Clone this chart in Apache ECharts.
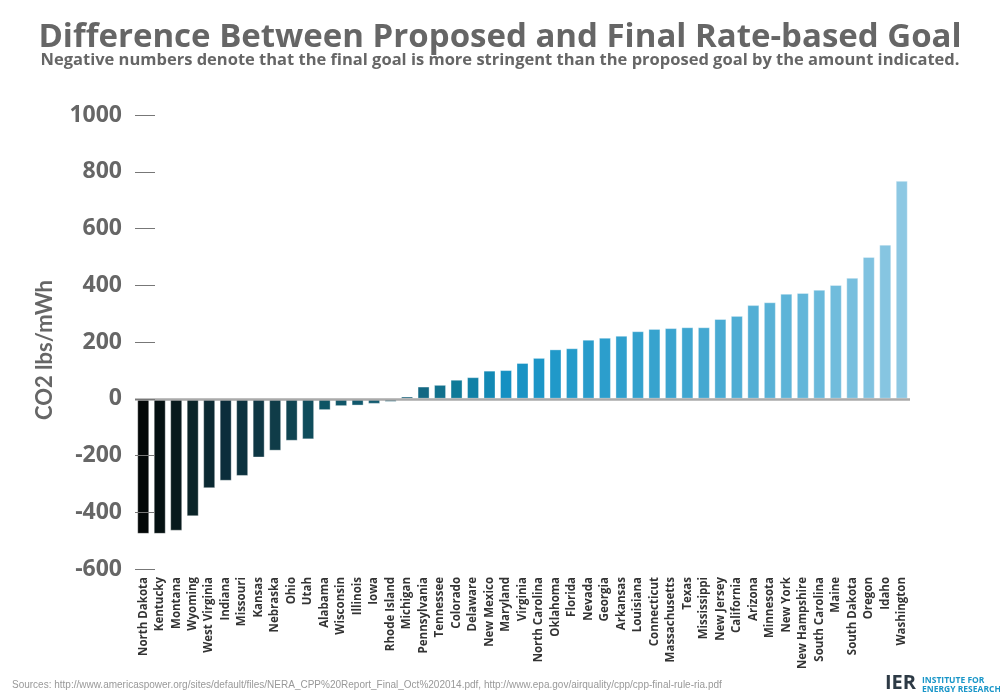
<!DOCTYPE html>
<html>
<head>
<meta charset="utf-8">
<script src="https://cdn.jsdelivr.net/npm/echarts@6/dist/echarts.min.js"></script>
<style>html,body{margin:0;padding:0;background:#fff}#c{width:1000px;height:700px}</style>
</head>
<body>
<div id="c"></div>
<script>
const states = ["North Dakota","Kentucky","Montana","Wyoming","West Virginia","Indiana","Missouri","Kansas","Nebraska","Ohio","Utah","Alabama","Wisconsin","Illinois","Iowa","Rhode Island","Michigan","Pennsylvania","Tennessee","Colorado","Delaware","New Mexico","Maryland","Virginia","North Carolina","Oklahoma","Florida","Nevada","Georgia","Arkansas","Louisiana","Connecticut","Massachusetts","Texas","Mississippi","New Jersey","California","Arizona","Minnesota","New York","New Hampshire","South Carolina","Maine","South Dakota","Oregon","Idaho","Washington"];
const differences = [-476,-476,-465,-414,-315,-289,-272,-207,-183,-148,-143,-40,-26,-24,-18,-11,8,43,49,67,76,99,101,126,144,174,178,208,215,222,238,246,249,252,252,281,292,330,340,370,373,384,401,426,500,543,768];
const yTicks = {min:-600, max:1000, interval:200};
const titleText = "Difference Between Proposed and Final Rate-based Goal";
const subtitleText = "Negative numbers denote that the final goal is more stringent than the proposed goal by the amount indicated.";
const yAxisName = "CO2 lbs/mWh";
const sourceText = "Sources: http://www.americaspower.org/sites/default/files/NERA_CPP%20Report_Final_Oct%202014.pdf, http://www.epa.gov/airquality/cpp/cpp-final-rule-ria.pdf";

// colour ramp stops (index -> colour)
const stops = [[0,"#030707"],[3,"#0a2428"],[5,"#0b2d3b"],[8,"#0f3c48"],[11,"#0f5464"],[16,"#155f78"],[19,"#0f7a98"],[22,"#1590c2"],[25,"#2099c9"],[33,"#3fa6d0"],[40,"#62b6d9"],[46,"#8dc8e3"]];
function hex(c){return [1,3,5].map(i=>parseInt(c.substr(i,2),16));}
function colorAt(i){
  for(let k=0;k<stops.length-1;k++){
    const [a,ca]=stops[k],[b,cb]=stops[k+1];
    if(i>=a&&i<=b){const t=(i-a)/(b-a);const x=hex(ca),y=hex(cb);
      return "rgb("+x.map((v,j)=>Math.round(v+(y[j]-v)*t)).join(",")+")";}
  }
  return stops[stops.length-1][1];
}

const chart = echarts.init(document.getElementById('c'));
chart.setOption({
  animation:false,
  backgroundColor:'#fff',
  grid:{left:135,right:90,top:115,bottom:131},
  xAxis:{
    type:'category', data:states,
    axisLine:{show:false,onZero:false}, axisTick:{show:false},
    axisLabel:{rotate:90, interval:0, margin:8, fontSize:11.5, fontWeight:'bold', color:'#333', fontFamily:'Open Sans'}
  },
  yAxis:{
    type:'value', min:yTicks.min, max:yTicks.max, interval:yTicks.interval, z:5,
    axisLine:{show:false}, splitLine:{show:false},
    axisTick:{show:true, inside:true, length:20, lineStyle:{color:'#777', width:1}},
    axisLabel:{margin:13, fontSize:23, fontWeight:'bold', color:'#666', fontFamily:'Open Sans', formatter:v=>String(v)}
  },
  series:[{
    type:'bar', barWidth:12,
    data:differences.map((v,i)=>({value:v,itemStyle:{color:colorAt(i)}})),
    itemStyle:{borderColor:'rgba(255,255,255,0.35)', borderWidth:1},
    markLine:{silent:true, symbol:'none', label:{show:false},
      lineStyle:{color:'#aaa', width:2.5, type:'solid'}, data:[{yAxis:0}]}
  }],
  graphic:[
    {type:'text', left:'center', top:21, style:{text:titleText, font:'bold 33px "Open Sans"', fill:'#666'}},
    {type:'text', left:'center', top:52, style:{text:subtitleText, font:'bold 16.5px "Open Sans"', fill:'#666'}},
    {type:'text', x:45, y:350, rotation:Math.PI/2, style:{text:yAxisName, font:'bold 22px Lato', fill:'#666', align:'center', verticalAlign:'middle'}},
    {type:'text', left:12, top:680, style:{text:sourceText, font:'10px "Liberation Sans"', fill:'#999'}},
    {type:'text', left:885, top:673, style:{text:'IER', font:'bold 20px "Open Sans"', fill:'#2d3a45'}},
    {type:'text', left:922, top:676, style:{text:'INSTITUTE FOR\nENERGY RESEARCH', font:'bold 8.5px "Open Sans"', lineHeight:9, fill:'#1a96c8'}}
  ]
});
</script>
</body>
</html>
